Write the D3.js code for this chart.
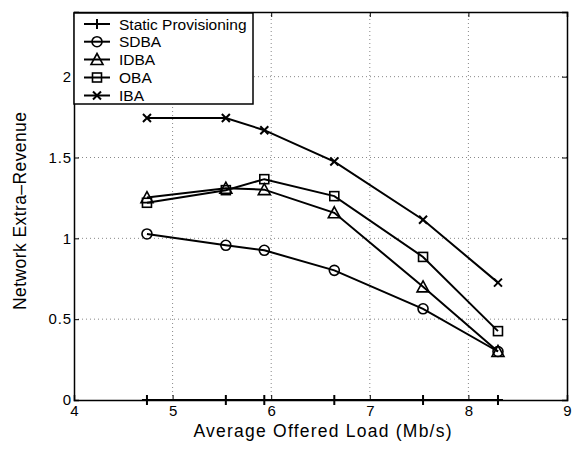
<!DOCTYPE html>
<html>
<head>
<meta charset="utf-8">
<script src="https://cdn.jsdelivr.net/npm/d3@7"></script>
<style>
  html, body { margin: 0; padding: 0; background: #fff; }
  svg text { font-family: "Liberation Sans", Arial, Helvetica, sans-serif; fill: #000; }
</style>
</head>
<body>
<svg id="chart" width="577" height="449"></svg>
<script>
// Offered load values (Mb/s) shared by every series
const loads = [4.74, 5.54, 5.93, 6.64, 7.54, 8.30];

const seriesNames = ["Static Provisioning", "SDBA", "IDBA", "OBA", "IBA"];
const staticProv = [0, 0, 0, 0, 0, 0];
const sdba = [1.027, 0.957, 0.926, 0.802, 0.564, 0.300];
const idba = [1.252, 1.310, 1.301, 1.158, 0.700, 0.300];
const oba  = [1.220, 1.298, 1.366, 1.261, 0.885, 0.426];
const iba  = [1.744, 1.744, 1.669, 1.475, 1.115, 0.726];

const xTicks = [4, 5, 6, 7, 8, 9];
const yTicks = [0, 0.5, 1, 1.5, 2];

const seriesValues = [staticProv, sdba, idba, oba, iba];
const markers = ["plus", "circle", "triangle", "square", "cross"];

const svg = d3.select("#chart");
const mLeft = 74, mRight = 567, mTop = 12, mBottom = 400;

const x = d3.scaleLinear().domain([4, 9]).range([mLeft, mRight]);
const y = d3.scaleLinear().domain([0, 2.4]).range([mBottom, mTop]);

// widen a text element by a factor, spreading the letters
function widen(sel, factor) {
  sel.each(function () {
    const len = this.getComputedTextLength();
    d3.select(this).attr("textLength", len * factor).attr("lengthAdjust", "spacing");
  });
}

// dotted grid
const grid = svg.append("g").attr("stroke", "#888").attr("stroke-width", 1)
  .attr("stroke-dasharray", "1,3");
grid.selectAll("line.gx").data(xTicks.slice(1, -1)).join("line").attr("class", "gx")
  .attr("x1", d => x(d)).attr("x2", d => x(d))
  .attr("y1", mBottom).attr("y2", mTop);
grid.selectAll("line.gy").data(yTicks.slice(1)).join("line").attr("class", "gy")
  .attr("y1", d => y(d)).attr("y2", d => y(d))
  .attr("x1", mLeft).attr("x2", mRight);

// axes with inward ticks on all four sides
const axFont = 15;
const gx = svg.append("g").attr("transform", `translate(0,${mBottom})`)
  .call(d3.axisBottom(x).tickValues(xTicks).tickSize(-5).tickPadding(4).tickFormat(d3.format("d")));
const gxTop = svg.append("g").attr("transform", `translate(0,${mTop})`)
  .call(d3.axisTop(x).tickValues(xTicks).tickSize(-5).tickFormat(""));
const gy = svg.append("g").attr("transform", `translate(${mLeft},0)`)
  .call(d3.axisLeft(y).tickValues(yTicks).tickSize(-5).tickPadding(3).tickFormat(d => d));
const gyR = svg.append("g").attr("transform", `translate(${mRight},0)`)
  .call(d3.axisRight(y).tickValues(yTicks).tickSize(-5).tickFormat(""));
[gx, gxTop, gy, gyR].forEach(g => {
  g.attr("font-family", null).attr("font-size", null);
  g.select(".domain").attr("stroke", "#000").attr("stroke-width", 1.5);
  g.selectAll(".tick line").attr("stroke", "#000").attr("stroke-width", 1);
  g.selectAll("text").attr("font-size", axFont);
});
gx.selectAll("text").attr("dy", "0.8em");
widen(gy.selectAll("text"), 1.08);

// axis titles
const xt = svg.append("text").attr("x", (mLeft + mRight) / 2 + 2).attr("y", 437)
  .attr("text-anchor", "middle").attr("font-size", 17.5)
  .text("Average Offered Load (Mb/s)");
xt.attr("textLength", 258).attr("lengthAdjust", "spacing");
const yt = svg.append("text").attr("transform", `translate(26,211) rotate(-90)`)
  .attr("text-anchor", "middle").attr("font-size", 17.5)
  .text("Network Extra\u2013Revenue");
yt.attr("textLength", 198).attr("lengthAdjust", "spacing");

// marker drawing (hollow, as plotted)
function drawMarker(g, type, cx, cy) {
  const s = g.append("g").attr("transform", `translate(${cx},${cy})`)
    .attr("fill", "none").attr("stroke", "#000").attr("stroke-width", 1.6);
  if (type === "plus") {
    s.append("path").attr("d", "M-5,0H5M0,-5V5").attr("stroke-width", 2);
  } else if (type === "circle") {
    s.append("circle").attr("r", 5);
  } else if (type === "triangle") {
    s.append("path").attr("d", "M0,-6L6,5L-6,5Z");
  } else if (type === "square") {
    s.append("rect").attr("x", -4.5).attr("y", -4.5).attr("width", 9).attr("height", 9);
  } else if (type === "cross") {
    s.append("path").attr("d", "M-4,-4L4,4M-4,4L4,-4").attr("stroke-width", 2);
  }
}

const line = d3.line().x(d => x(d[0])).y(d => y(d[1]));
seriesValues.forEach((vals, i) => {
  const pts = loads.map((l, j) => [l, vals[j]]);
  svg.append("path").datum(pts).attr("d", line)
    .attr("fill", "none").attr("stroke", "#000").attr("stroke-width", 2);
});
seriesValues.forEach((vals, i) => {
  const g = svg.append("g");
  loads.forEach((l, j) => drawMarker(g, markers[i], x(l), y(vals[j])));
});

// legend
const lg = svg.append("g");
lg.append("rect").attr("x", mLeft).attr("y", mTop + 1).attr("width", 179).attr("height", 91)
  .attr("fill", "#fff").attr("stroke", "#000").attr("stroke-width", 1.5);
const legY = [24, 41.7, 59.5, 77.5, 95.5];
seriesNames.forEach((name, i) => {
  lg.append("line").attr("x1", 84).attr("x2", 110).attr("y1", legY[i]).attr("y2", legY[i])
    .attr("stroke", "#000").attr("stroke-width", 2);
  drawMarker(lg, markers[i], 97, legY[i]);
  lg.append("text").attr("x", 119).attr("y", legY[i]).attr("dy", "0.36em")
    .attr("font-size", 15.5).text(name);
});
</script>
</body>
</html>
